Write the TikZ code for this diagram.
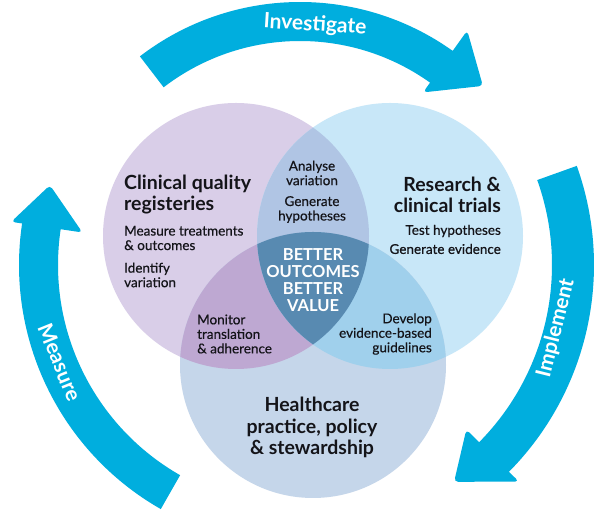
\documentclass[tikz,border=0pt]{standalone}
\usepackage{fontspec}
\setmainfont{Lato}
\newfontfamily\medfont{Lato}[FakeBold=0.5]
\definecolor{arrowc}{RGB}{0,174,222}
\definecolor{purc}{RGB}{217,206,232}
\definecolor{rc}{RGB}{200,231,248}
\definecolor{bc}{RGB}{197,214,234}
\definecolor{prc}{RGB}{176,197,228}
\definecolor{pbc}{RGB}{190,168,210}
\definecolor{rbc}{RGB}{160,208,236}
\definecolor{cc}{RGB}{88,138,177}
\definecolor{textc}{RGB}{20,20,25}
\begin{document}
\begin{tikzpicture}[x=1pt,y=1pt,
  txt/.style={inner sep=0pt, text=textc, font=\medfont\fontsize{13.5}{14.5}\selectfont},
  headtxt/.style={inner sep=0pt, text=textc, font=\bfseries\fontsize{19.5}{21}\selectfont},
  centertxt/.style={inner sep=0pt, text=white, align=center, font=\bfseries\fontsize{16.5}{17}\selectfont},
  arlabel/.style={inner sep=0pt, text=white, font=\bfseries\fontsize{21}{22}\selectfont},
  arrowfill/.style={fill=arrowc}]
\fill[white] (0,0) rectangle (600,513);
\useasboundingbox (0,0) rectangle (600,513);
\coordinate (C) at (300,248);
\coordinate (P) at (236,277);
\coordinate (R) at (390,277);
\coordinate (B) at (313,148);
% circles
\fill[purc] (P) circle[radius=133];
\fill[rc] (R) circle[radius=133];
\fill[bc] (B) circle[radius=133];
\begin{scope}\clip (P) circle[radius=133]; \fill[prc] (R) circle[radius=133]; \end{scope}
\begin{scope}\clip (P) circle[radius=133]; \fill[pbc] (B) circle[radius=133]; \end{scope}
\begin{scope}\clip (R) circle[radius=133]; \fill[rbc] (B) circle[radius=133]; \end{scope}
\begin{scope}\clip (P) circle[radius=133]; \clip (R) circle[radius=133]; \fill[cc] (B) circle[radius=133]; \end{scope}
% top arrow
\path[arrowfill] ([shift={(127.5:263)}]C) arc[start angle=127.5, end angle=54.5, radius=263]
  [rounded corners=4pt] -- ([shift={(54.5:288)}]C) -- ([shift={(44.4:256)}]C) -- ([shift={(54.5:212)}]C)
  [sharp corners] -- ([shift={(54.5:224)}]C) arc[start angle=54.5, end angle=127.5, radius=224] -- cycle;
% right arrow
\path[arrowfill] ([shift={(19.7:294)}]C) arc[start angle=19.7, end angle=-44.7, radius=294]
  [rounded corners=4pt] -- ([shift={(-44.7:308)}]C) -- ([shift={(-54.6:266)}]C) -- ([shift={(-44.7:234)}]C)
  [sharp corners] -- ([shift={(-44.7:252)}]C) arc[start angle=-44.7, end angle=19.7, radius=252] -- cycle;
% left arrow
\path[arrowfill] ([shift={(240.3:281)}]C) arc[start angle=240.3, end angle=171.5, radius=281]
  [rounded corners=4pt] -- ([shift={(171.5:292)}]C) -- ([shift={(162.3:262.5)}]C) -- ([shift={(171.5:220)}]C)
  [sharp corners] -- ([shift={(171.5:242)}]C) arc[start angle=171.5, end angle=240.3, radius=242] -- cycle;
% arrow labels
\node[arlabel, rotate=-3.6] (inv) at (315,488) {Investigate};
\node[arlabel, rotate=76] (imp) at (556,185) {Implement};
\node[arlabel, rotate=-68] (mea) at (60,151) {Measure};
% circle texts
\node[headtxt, anchor=west, align=left] (cqr) at (124,318) {Clinical quality\\registeries};
\node[txt, anchor=west, align=left] (mto) at (124,275) {Measure treatments\\\& outcomes};
\node[txt, anchor=west, align=left] (idv) at (124,238) {Identify\\variation};
\node[txt, align=center] (anv) at (312,340) {Analyse\\variation};
\node[txt, align=center] (gnh) at (312,303.5) {Generate\\hypotheses};
\node[headtxt, anchor=east, align=right] (rct) at (501,318) {Research \&\\clinical trials};
\node[txt, anchor=east] (tsh) at (501,282) {Test hypotheses};
\node[txt, anchor=east] (gne) at (501,264) {Generate evidence};
\node[centertxt] (bob) at (313,232.5) {BETTER\\OUTCOMES\\BETTER\\VALUE};
\node[txt, anchor=west, align=left] (mta) at (197,179) {Monitor\\translation\\\& adherence};
\node[txt, anchor=east, align=right] (deg) at (432,179) {Develop\\evidence-based\\guidelines};
\node[headtxt, align=center, font=\bfseries\fontsize{19.5}{21.5}\selectfont] (hps) at (312,85.5) {Healthcare\\practice, policy\\\& stewardship};
\end{tikzpicture}
\end{document}
